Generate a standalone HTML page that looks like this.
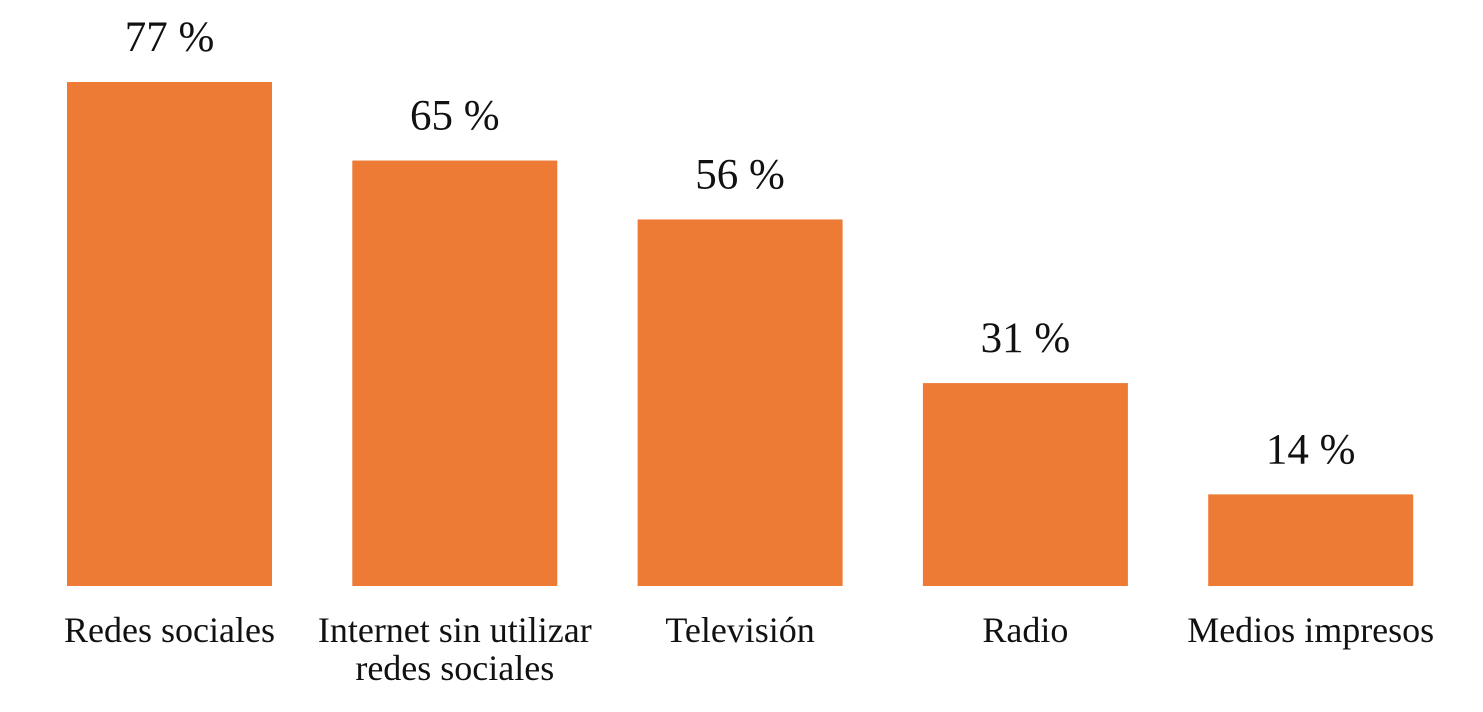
<!DOCTYPE html>
<html><head><meta charset="utf-8"><style>
html,body{margin:0;padding:0;background:#fff;}
svg{display:block;}
text{font-family:"Liberation Serif",serif;fill:#111;}
</style></head><body>
<svg id="chart" width="1483" height="712" viewBox="0 0 1483 712" xmlns="http://www.w3.org/2000/svg"></svg>
<script>
const categories = [["Redes sociales"],["Internet sin utilizar","redes sociales"],["Televisión"],["Radio"],["Medios impresos"]];
const values = [77, 65, 56, 31, 14];
const valueLabels = ["77 %","65 %","56 %","31 %","14 %"];

const svg = document.getElementById('chart');
const NS = 'http://www.w3.org/2000/svg';
const baseY = 586, pxPerUnit = 504/77;
const x0 = 67, step = 285.3, barW = 205;
function xPos(i){ return x0 + i*step; }
function yPos(v){ return baseY - v*pxPerUnit; }

values.forEach((v,i)=>{
  const r = document.createElementNS(NS,'rect');
  
  
  r.setAttribute('x', xPos(i));
  r.setAttribute('y', yPos(v));
  r.setAttribute('width', barW);
  r.setAttribute('height', baseY - yPos(v));
  r.setAttribute('fill', '#ED7B35');
  svg.appendChild(r);

  const t = document.createElementNS(NS,'text');
  
  
  t.setAttribute('x', xPos(i)+barW/2);
  t.setAttribute('y', yPos(v)-31);
  t.setAttribute('text-anchor','middle');
  t.setAttribute('font-size','43');
  t.textContent = valueLabels[i];
  svg.appendChild(t);

  categories[i].forEach((line,j)=>{
    const c = document.createElementNS(NS,'text');
    
    
    c.setAttribute('x', xPos(i)+barW/2);
    c.setAttribute('y', 642 + j*38);
    c.setAttribute('text-anchor','middle');
    c.setAttribute('font-size','36');
    c.textContent = line;
    svg.appendChild(c);
  });
});
</script>
</body></html>
